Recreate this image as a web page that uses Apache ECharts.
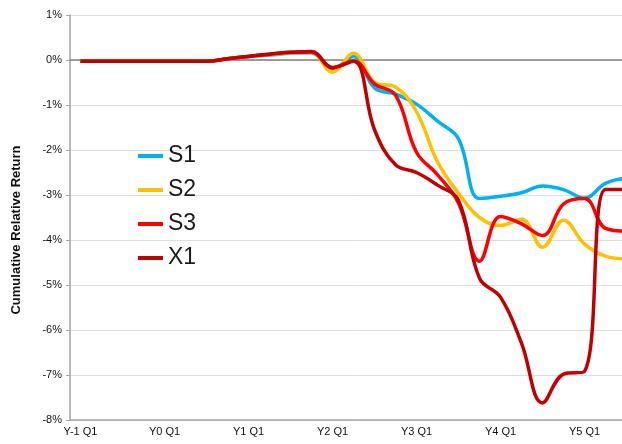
<!DOCTYPE html>
<html lang="en">
<head>
    <meta charset="UTF-8">
    <title>Cumulative Relative Return</title>
    <script src="https://cdn.jsdelivr.net/npm/echarts@6/dist/echarts.min.js"></script>
    <style>
        html, body { margin: 0; padding: 0; background: #fff; overflow: hidden; }
        /* plot runs past the right edge of the window, as in the source image */
        #chart { width: 637px; height: 444px; }
    </style>
</head>
<body>
    <div id="chart"></div>
    <script>
        // quarters, Y-1 Q1 .. Y5 Q3
        const quarters = [
            'Y-1 Q1', 'Y-1 Q2', 'Y-1 Q3', 'Y-1 Q4',
            'Y0 Q1', 'Y0 Q2', 'Y0 Q3', 'Y0 Q4',
            'Y1 Q1', 'Y1 Q2', 'Y1 Q3', 'Y1 Q4',
            'Y2 Q1', 'Y2 Q2', 'Y2 Q3', 'Y2 Q4',
            'Y3 Q1', 'Y3 Q2', 'Y3 Q3', 'Y3 Q4',
            'Y4 Q1', 'Y4 Q2', 'Y4 Q3', 'Y4 Q4',
            'Y5 Q1', 'Y5 Q2', 'Y5 Q3'
        ];

        // cumulative relative return, %
        const s1 = [-0.03, -0.03, -0.03, -0.03, -0.03, -0.03, -0.03, 0.03, 0.08, 0.11, 0.15, 0.16,
            -0.2, 0.08, -0.62, -0.76, -0.98, -1.36, -1.75, -3.08, -3.03, -2.95, -2.8, -2.88, -3.07, -2.74, -2.63];
        const s2 = [-0.03, -0.03, -0.03, -0.03, -0.03, -0.03, -0.03, 0.03, 0.08, 0.12, 0.16, 0.17,
            -0.27, 0.15, -0.5, -0.6, -1.15, -2.26, -2.96, -3.5, -3.68, -3.54, -4.16, -3.56, -4.09, -4.36, -4.42];
        const s3 = [-0.03, -0.03, -0.03, -0.03, -0.03, -0.03, -0.03, 0.03, 0.08, 0.13, 0.17, 0.18,
            -0.17, -0.02, -0.53, -0.78, -2.05, -2.55, -3.18, -4.47, -3.48, -3.64, -3.9, -3.2, -3.08, -3.74, -3.8];
        const x1 = [-0.03, -0.03, -0.03, -0.03, -0.03, -0.03, -0.03, 0.03, 0.08, 0.13, 0.17, 0.19,
            -0.17, -0.03, -1.55, -2.33, -2.5, -2.78, -3.12, -4.85, -5.27, -6.29, -7.62, -6.98, -6.92, -2.88, -2.88];

        const seriesNames = ['S1', 'S2', 'S3', 'X1'];
        const seriesColors = ['#00b0f0', '#ffc000', '#ff0000', '#c00000'];
        const seriesValues = [s1, s2, s3, x1];

        const font = 'Arial, "Liberation Sans", sans-serif';
        const chart = echarts.init(document.getElementById('chart'));

        const option = {
            animation: false,
            grid: { left: 70, right: 0, top: 15, bottom: 24 },
            legend: {
                orient: 'vertical',
                left: 138,
                top: 144,
                padding: 0,
                icon: 'rect',
                itemWidth: 25,
                itemHeight: 4,
                itemGap: 10,
                data: seriesNames,
                textStyle: { fontFamily: font, fontSize: 23, color: '#1a1a1a', lineHeight: 24 }
            },
            xAxis: [{
                type: 'category',
                data: quarters,
                boundaryGap: true,
                axisLine: { onZero: false, lineStyle: { color: '#a6a6a6', width: 1.5 } },
                axisTick: { interval: 0, length: 4, lineStyle: { color: '#a6a6a6' } },
                axisLabel: { interval: 3, fontFamily: font, fontSize: 11, color: '#111', margin: 6 },
                splitLine: { show: false }
            }, {
                // zero line
                type: 'category',
                data: quarters,
                position: 'bottom',
                axisLine: { onZero: true, lineStyle: { color: '#808080', width: 1.5 } },
                axisTick: { show: false },
                axisLabel: { show: false },
                splitLine: { show: false }
            }],
            yAxis: {
                type: 'value',
                min: -8,
                max: 1,
                interval: 1,
                axisLine: { show: true, lineStyle: { color: '#a6a6a6', width: 1.5 } },
                axisTick: { show: true, length: 4, lineStyle: { color: '#a6a6a6' } },
                axisLabel: { formatter: '{value}%', fontFamily: font, fontSize: 11, color: '#111', margin: 8 },
                splitLine: { lineStyle: { color: '#dedede', width: 1 } }
            },
            graphic: [{
                type: 'text',
                rotation: Math.PI / 2,
                x: 16,
                y: 230,
                style: {
                    text: 'Cumulative Relative Return',
                    font: 'bold 13px ' + font,
                    fill: '#111',
                    textAlign: 'center',
                    textVerticalAlign: 'middle'
                }
            }],
            series: seriesNames.map((name, k) => ({
                name: name,
                type: 'line',
                data: seriesValues[k],
                smooth: 0.4,
                symbol: 'none',
                lineStyle: { color: seriesColors[k], width: 3.5 },
                itemStyle: { color: seriesColors[k] }
            }))
        };

        chart.setOption(option);
    </script>
</body>
</html>
